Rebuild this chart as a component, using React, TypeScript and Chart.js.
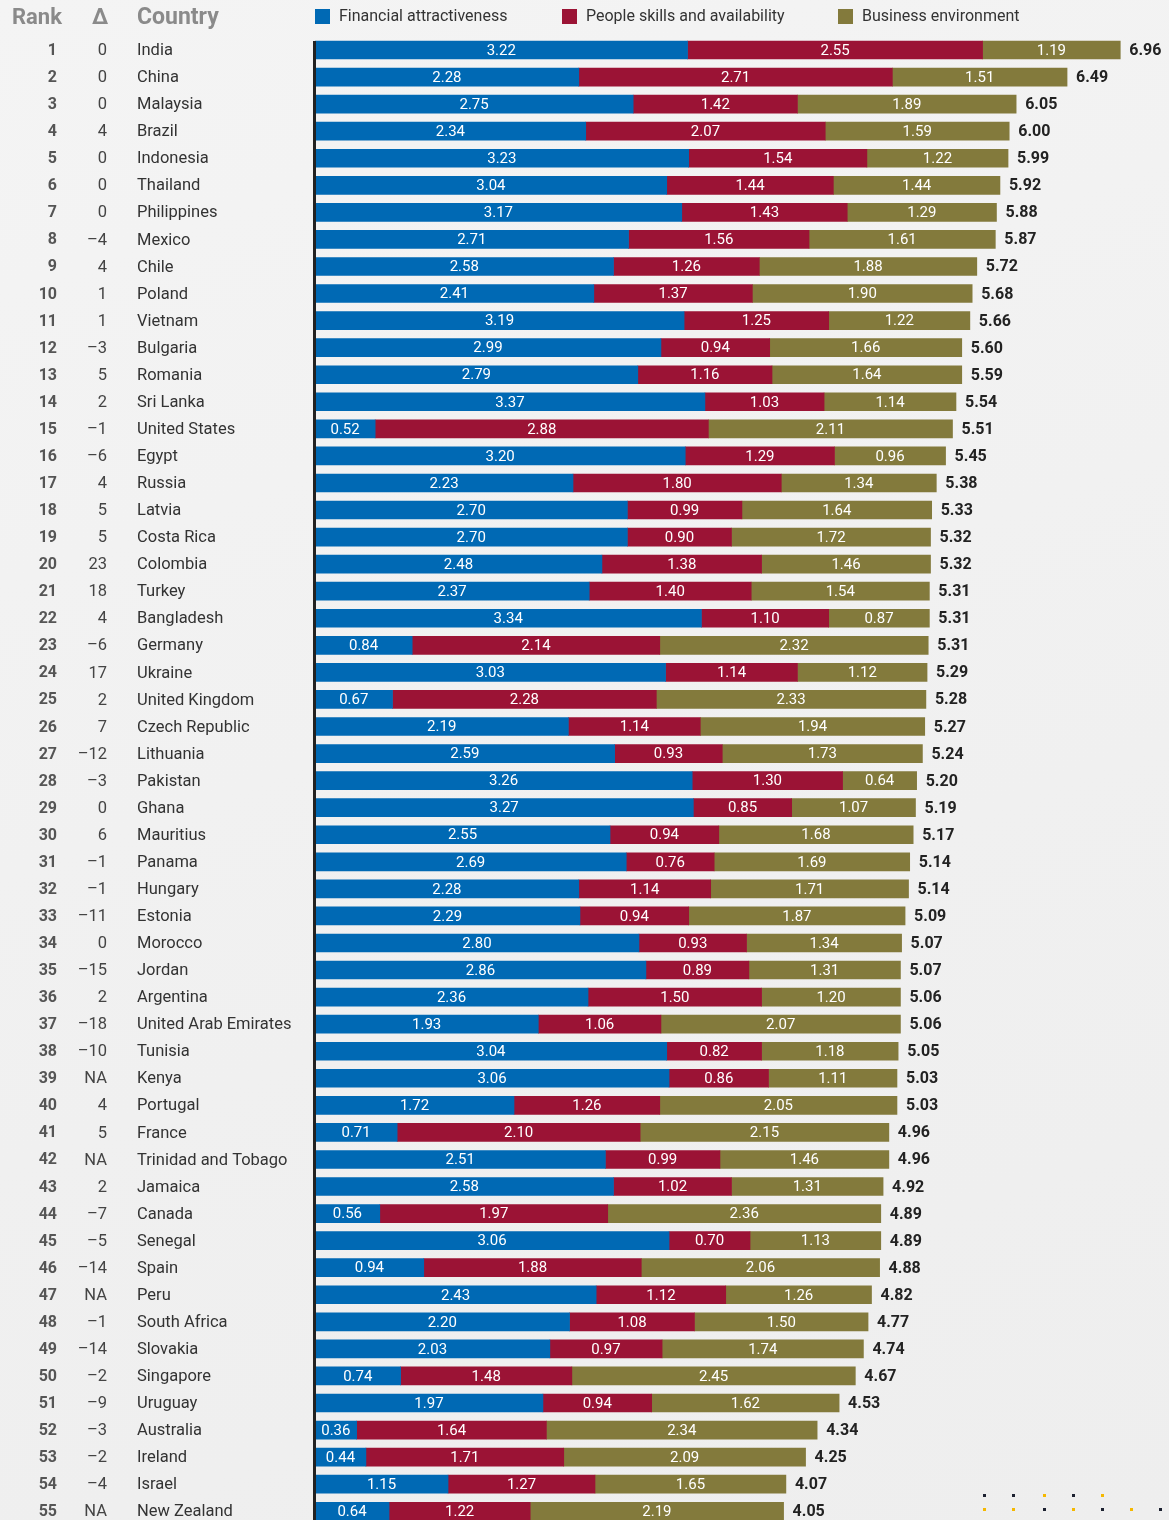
import React, { useEffect, useRef } from "react";
import { Chart, registerables } from "chart.js";

Chart.register(...registerables);

const countries = [
  "India", "China", "Malaysia", "Brazil", "Indonesia", "Thailand", "Philippines", "Mexico", "Chile", "Poland",
  "Vietnam", "Bulgaria", "Romania", "Sri Lanka", "United States", "Egypt", "Russia", "Latvia", "Costa Rica", "Colombia",
  "Turkey", "Bangladesh", "Germany", "Ukraine", "United Kingdom", "Czech Republic", "Lithuania", "Pakistan", "Ghana", "Mauritius",
  "Panama", "Hungary", "Estonia", "Morocco", "Jordan", "Argentina", "United Arab Emirates", "Tunisia", "Kenya", "Portugal",
  "France", "Trinidad and Tobago", "Jamaica", "Canada", "Senegal", "Spain", "Peru", "South Africa", "Slovakia", "Singapore",
  "Uruguay", "Australia", "Ireland", "Israel", "New Zealand",
];

const ranks = [
  "1", "2", "3", "4", "5", "6", "7", "8", "9", "10",
  "11", "12", "13", "14", "15", "16", "17", "18", "19", "20",
  "21", "22", "23", "24", "25", "26", "27", "28", "29", "30",
  "31", "32", "33", "34", "35", "36", "37", "38", "39", "40",
  "41", "42", "43", "44", "45", "46", "47", "48", "49", "50",
  "51", "52", "53", "54", "55",
];

const deltas = [
  "0", "0", "0", "4", "0", "0", "0", "–4", "4", "1",
  "1", "–3", "5", "2", "–1", "–6", "4", "5", "5", "23",
  "18", "4", "–6", "17", "2", "7", "–12", "–3", "0", "6",
  "–1", "–1", "–11", "0", "–15", "2", "–18", "–10", "NA", "4",
  "5", "NA", "2", "–7", "–5", "–14", "NA", "–1", "–14", "–2",
  "–9", "–3", "–2", "–4", "NA",
];

const financial = [
  3.22, 2.28, 2.75, 2.34, 3.23, 3.04, 3.17, 2.71, 2.58, 2.41,
  3.19, 2.99, 2.79, 3.37, 0.52, 3.20, 2.23, 2.70, 2.70, 2.48,
  2.37, 3.34, 0.84, 3.03, 0.67, 2.19, 2.59, 3.26, 3.27, 2.55,
  2.69, 2.28, 2.29, 2.80, 2.86, 2.36, 1.93, 3.04, 3.06, 1.72,
  0.71, 2.51, 2.58, 0.56, 3.06, 0.94, 2.43, 2.20, 2.03, 0.74,
  1.97, 0.36, 0.44, 1.15, 0.64,
];

const people = [
  2.55, 2.71, 1.42, 2.07, 1.54, 1.44, 1.43, 1.56, 1.26, 1.37,
  1.25, 0.94, 1.16, 1.03, 2.88, 1.29, 1.80, 0.99, 0.90, 1.38,
  1.40, 1.10, 2.14, 1.14, 2.28, 1.14, 0.93, 1.30, 0.85, 0.94,
  0.76, 1.14, 0.94, 0.93, 0.89, 1.50, 1.06, 0.82, 0.86, 1.26,
  2.10, 0.99, 1.02, 1.97, 0.70, 1.88, 1.12, 1.08, 0.97, 1.48,
  0.94, 1.64, 1.71, 1.27, 1.22,
];

const business = [
  1.19, 1.51, 1.89, 1.59, 1.22, 1.44, 1.29, 1.61, 1.88, 1.90,
  1.22, 1.66, 1.64, 1.14, 2.11, 0.96, 1.34, 1.64, 1.72, 1.46,
  1.54, 0.87, 2.32, 1.12, 2.33, 1.94, 1.73, 0.64, 1.07, 1.68,
  1.69, 1.71, 1.87, 1.34, 1.31, 1.20, 2.07, 1.18, 1.11, 2.05,
  2.15, 1.46, 1.31, 2.36, 1.13, 2.06, 1.26, 1.50, 1.74, 2.45,
  1.62, 2.34, 2.09, 1.65, 2.19,
];

const totals = [
  6.96, 6.49, 6.05, 6.00, 5.99, 5.92, 5.88, 5.87, 5.72, 5.68,
  5.66, 5.60, 5.59, 5.54, 5.51, 5.45, 5.38, 5.33, 5.32, 5.32,
  5.31, 5.31, 5.31, 5.29, 5.28, 5.27, 5.24, 5.20, 5.19, 5.17,
  5.14, 5.14, 5.09, 5.07, 5.07, 5.06, 5.06, 5.05, 5.03, 5.03,
  4.96, 4.96, 4.92, 4.89, 4.89, 4.88, 4.82, 4.77, 4.74, 4.67,
  4.53, 4.34, 4.25, 4.07, 4.05,
];

const seriesNames = ["Financial attractiveness", "People skills and availability", "Business environment"];
const seriesColors = ["#0069b4", "#9b1335", "#837a3c"];
const headers = ["Rank", "Δ", "Country"];

const W = 1169;
const H = 1540;
const FONT = "Roboto, 'Noto Sans', sans-serif";

const overlayPlugin = {
  id: "overlay",
  afterDatasetsDraw(chart: any) {
    const ctx: CanvasRenderingContext2D = chart.ctx;
    const yScale = chart.scales.y;
    ctx.save();

    // segment value labels
    ctx.font = `15px ${FONT}`;
    ctx.fillStyle = "#ffffff";
    ctx.textAlign = "center";
    ctx.textBaseline = "middle";
    chart.data.datasets.forEach((ds: any, di: number) => {
      const meta = chart.getDatasetMeta(di);
      meta.data.forEach((el: any, i: number) => {
        const p = el.getProps(["x", "base", "y"], true);
        ctx.fillText(Number(ds.data[i]).toFixed(2), (p.x + p.base) / 2, p.y + 1);
      });
    });

    // totals
    const lastMeta = chart.getDatasetMeta(chart.data.datasets.length - 1);
    ctx.font = `bold 16px ${FONT}`;
    ctx.fillStyle = "#222222";
    ctx.textAlign = "left";
    lastMeta.data.forEach((el: any, i: number) => {
      ctx.fillText(totals[i].toFixed(2), el.x + 9, el.y + 1);
    });

    // left columns
    countries.forEach((c, i) => {
      const y = yScale.getPixelForValue(i) + 1;
      ctx.font = `bold 16px ${FONT}`;
      ctx.fillStyle = "#555555";
      ctx.textAlign = "right";
      ctx.fillText(ranks[i], 57, y);
      ctx.font = `16.5px ${FONT}`;
      ctx.fillStyle = "#444444";
      ctx.fillText(deltas[i], 107, y);
      ctx.fillStyle = "#333333";
      ctx.textAlign = "left";
      ctx.fillText(c, 137, y);
    });

    // header
    ctx.font = `bold 22px ${FONT}`;
    ctx.fillStyle = "#8a8a8a";
    ctx.textAlign = "left";
    ctx.fillText(headers[0], 12, 18);
    ctx.fillText(headers[1], 92, 18);
    ctx.font = `bold 23px ${FONT}`;
    ctx.fillText(headers[2], 137, 18);

    // legend
    const legendX = [315, 562, 838];
    ctx.font = `16px ${FONT}`;
    seriesNames.forEach((name, i) => {
      ctx.fillStyle = seriesColors[i];
      ctx.fillRect(legendX[i], 9, 15, 15);
      ctx.fillStyle = "#333333";
      ctx.fillText(name, legendX[i] + 24, 17);
    });

    // axis line
    ctx.fillStyle = "#222222";
    ctx.fillRect(313, 41, 3, H - 41);

    // decorative dots
    const dark = "#1c2130";
    const yellow = "#f5b800";
    const dotX = [983, 1012, 1043, 1072, 1101, 1130, 1159];
    const row1 = [dark, dark, yellow, dark, yellow];
    const row2 = [yellow, yellow, dark, yellow, dark, yellow, dark];
    row1.forEach((col, i) => {
      ctx.fillStyle = col;
      ctx.fillRect(dotX[i], 1494, 3, 3);
    });
    row2.forEach((col, i) => {
      ctx.fillStyle = col;
      ctx.fillRect(dotX[i], 1508, 3, 3);
    });

    ctx.restore();
  },
};

export default function App() {
  const canvasRef = useRef<HTMLCanvasElement | null>(null);

  useEffect(() => {
    if (!canvasRef.current) return;
    const rowH = 27.06;
    const top = 50 - rowH / 2;
    const bottom = top + rowH * countries.length;
    const left = 315;
    const right = left + 115.7 * 7;
    const chart = new Chart(canvasRef.current, {
      type: "bar",
      data: {
        labels: countries,
        datasets: [financial, people, business].map((d, i) => ({
          label: seriesNames[i],
          data: d,
          backgroundColor: seriesColors[i],
          borderWidth: 0,
          barThickness: 18,
        })),
      },
      options: {
        indexAxis: "y",
        responsive: false,
        animation: false,
        devicePixelRatio: 1,
        layout: {
          padding: { left: left, right: W - right, top: top, bottom: H - bottom },
        },
        scales: {
          x: { stacked: true, min: 0, max: 7, display: false },
          y: { stacked: true, display: false },
        },
        plugins: {
          legend: { display: false },
          tooltip: { enabled: false },
        },
      },
      plugins: [overlayPlugin],
    });
    return () => chart.destroy();
  }, []);

  return (
    <div
      style={{
        position: "absolute",
        left: 0,
        top: 0,
        width: W,
        height: 1520,
        overflow: "hidden",
        background: "linear-gradient(160deg, #f4f4f4 0%, #f0f0f0 60%, #eeeeee 100%)",
      }}
    >
      <canvas ref={canvasRef} width={W} height={H} style={{ display: "block", width: W, height: H }} />
    </div>
  );
}
